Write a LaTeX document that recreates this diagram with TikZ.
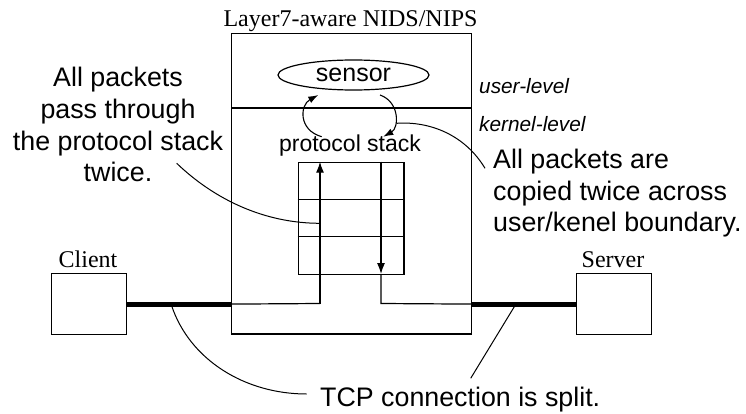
\documentclass[tikz,border=0pt]{standalone}
\usepackage{fontspec}
\setmainfont{Liberation Serif}
\newfontfamily\lsans{Liberation Sans}
\usetikzlibrary{shapes.geometric,arrows.meta}

\begin{document}
\begin{tikzpicture}[x=1pt,y=-1pt,
  box/.style={draw, line width=1.2pt, inner sep=0pt, anchor=north west},
  wire/.style={line width=1.2pt},
  thickwire/.style={line width=5pt},
  flow/.style={line width=1.2pt, -{Latex[length=11pt,width=8pt]}},
  loop/.style={line width=1.1pt, -{Latex[length=10pt,width=7pt]}},
  callout/.style={line width=1pt},
  note/.style={font=\lsans\fontsize{26.8}{31.7}\selectfont, inner sep=0pt},
  level/.style={font=\lsans\itshape\fontsize{20.8}{24}\selectfont, inner sep=0pt, anchor=base west},
  serif/.style={font=\fontsize{24}{28}\selectfont, inner sep=0pt, anchor=base},
]
\useasboundingbox (0,0) rectangle (746,414);

% appliance, end hosts
\node[box, minimum width=239.7pt, minimum height=300.3pt] (nids) at (231,33) {};
\node[box, minimum width=75.3pt, minimum height=61pt] (client) at (50.7,273) {};
\node[box, minimum width=75pt, minimum height=61pt] (server) at (575.7,273) {};
\node[box, minimum width=105.6pt, minimum height=112.3pt] (stack) at (297.7,161.7) {};

% labels
\node[serif] (title) at (350.5,26.7) {Layer7-aware NIDS/NIPS};
\node[serif] (clientlbl) at (88,267) {Client};
\node[serif] (serverlbl) at (613,267) {Server};

% user/kernel boundary
\coordinate (divL) at (231,108);
\coordinate (divR) at (470.7,108);
\draw[wire] (divL) -- (divR);
\node[level] (user) at (479,93.3) {user-level};
\node[level] (kernel) at (479,131.7) {kernel-level};

% sensor and protocol stack
\node[draw, ellipse, line width=1.2pt, inner sep=0pt, minimum width=151pt, minimum height=30pt,
      font=\lsans\fontsize{25}{30}\selectfont] (sensor) at (353.5,75) {sensor};
\node[font=\lsans\fontsize{23}{28}\selectfont, inner sep=0pt, anchor=base] (pstack) at (350,151.7) {protocol stack};

% stack layers
\coordinate (l1L) at (297.7,199.3);
\coordinate (l1R) at (403.3,199.3);
\coordinate (l2L) at (297.7,236.7);
\coordinate (l2R) at (403.3,236.7);
\draw[wire] (l1L) -- (l1R);
\draw[wire] (l2L) -- (l2R);

% network links
\draw[thickwire] (client.east) -- (client.east -| nids.west);
\draw[thickwire] (server.west -| nids.east) -- (server.west);

% packet path through the stack
\coordinate (inL) at (client.east -| nids.west);
\coordinate (upB) at (320,303.5);
\coordinate (upT) at (320,161.7);
\coordinate (dnT) at (381,161.7);
\coordinate (dnB) at (381,274);
\coordinate (dnC) at (381,303.5);
\coordinate (outR) at (server.west -| nids.east);
\draw[wire] (inL) -- (upB);
\draw[flow] (upB) -- (upT);
\draw[flow] (dnT) -- (dnB);
\draw[wire] (dnB) -- (dnC) -- (outR);

% copies across the boundary
\coordinate (loopLs) at (321.7,136.7);
\coordinate (loopLe) at (318.3,95);
\coordinate (loopRs) at (380,95);
\coordinate (loopRe) at (383.3,136.7);
\draw[loop] (loopLs) .. controls (298,130) and (300,105) .. (loopLe);
\draw[loop] (loopRs) .. controls (400,102) and (399,128) .. (loopRe);

% annotations
\node[note, align=center, anchor=north] (twice) at (118,67.2)
  {All packets\\pass through\\the protocol stack\\twice.};
\node[note, align=left, anchor=north west] (copied) at (493,148.8)
  {All packets are\\copied twice across\\user/kenel boundary.};
\node[note, anchor=base west] (split) at (320,406) {TCP connection is split.};

\coordinate (twiceA) at (176.7,163.3);
\coordinate (twiceB) at (320,223.3);
\draw[callout] (twiceA) .. controls (215,200) and (265,223.3) .. (twiceB);

\coordinate (copiedA) at (396.7,123.3);
\coordinate (copiedB) at (485,168.3);
\draw[callout] (copiedA) .. controls (430,121) and (465,135) .. (copiedB);

\coordinate (splitA) at (171.7,306);
\coordinate (splitB) at (306.7,394);
\coordinate (splitC) at (514.3,306.7);
\coordinate (splitD) at (470.7,378.3);
\draw[callout] (splitA) .. controls (190,360) and (245,394) .. (splitB);
\draw[callout] (splitC) -- (splitD);
\end{tikzpicture}
\end{document}
